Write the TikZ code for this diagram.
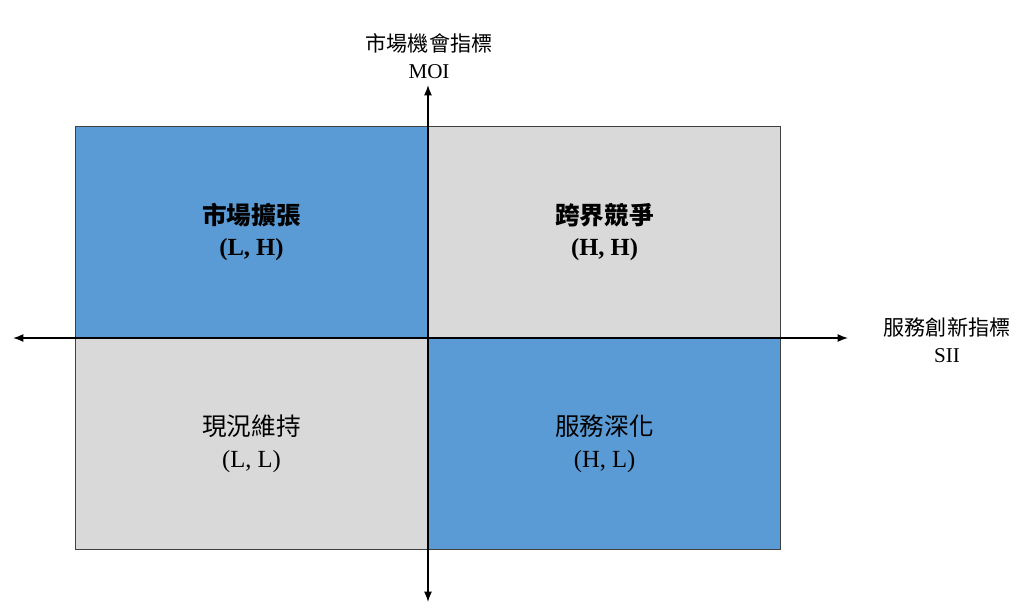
\documentclass[tikz,border=0pt]{standalone}
\usepackage{fontspec}
\setmainfont{Liberation Serif}
\newfontfamily\cjk{Noto Sans CJK TC}
\usetikzlibrary{arrows.meta}
\definecolor{quadblue}{HTML}{5B9BD5}
\definecolor{quadgray}{HTML}{D9D9D9}
\definecolor{quadline}{HTML}{404040}
\tikzset{
  quad/.style={draw=quadline, line width=0.25mm, minimum width=8.8cm, minimum height=5.275cm,
    inner sep=0pt, align=center, font=\fontsize{17.5}{22.5}\selectfont},
  quadbold/.style={quad, font=\fontsize{17.5}{22.5}\selectfont\bfseries},
  axis/.style={line width=0.35mm, -{Latex[length=2.6mm,width=2mm]}},
  axislabel/.style={align=center, font=\fontsize{15}{19}\selectfont}
}
\begin{document}
\begin{tikzpicture}[x=0.025cm, y=-0.025cm]
\useasboundingbox (0,0) rectangle (1024,608);

\coordinate (o) at (428,338);

\node[quadbold, fill=quadblue, anchor=south east] (hl) at (o) {{\cjk 市場擴張}\\(L, H)};
\node[quadbold, fill=quadgray, anchor=south west] (hh) at (o) {{\cjk 跨界競爭}\\(H, H)};
\node[quad, fill=quadgray, anchor=north east] (ll) at (o) {{\cjk 現況維持}\\(L, L)};
\node[quad, fill=quadblue, anchor=north west] (lh) at (o) {{\cjk 服務深化}\\(H, L)};

\coordinate (xleft) at (13,338);
\coordinate (xright) at (848,338);
\coordinate (ytop) at (428,85);
\coordinate (ybottom) at (428,602);

\draw[axis] (o) -- (xleft);
\draw[axis] (o) -- (xright);
\draw[axis] (o) -- (ytop);
\draw[axis] (o) -- (ybottom);

\node[axislabel] (moi) at (429,56) {{\cjk 市場機會指標}\\MOI};
\node[axislabel] (sii) at (947,340) {{\cjk 服務創新指標}\\SII};
\end{tikzpicture}
\end{document}
